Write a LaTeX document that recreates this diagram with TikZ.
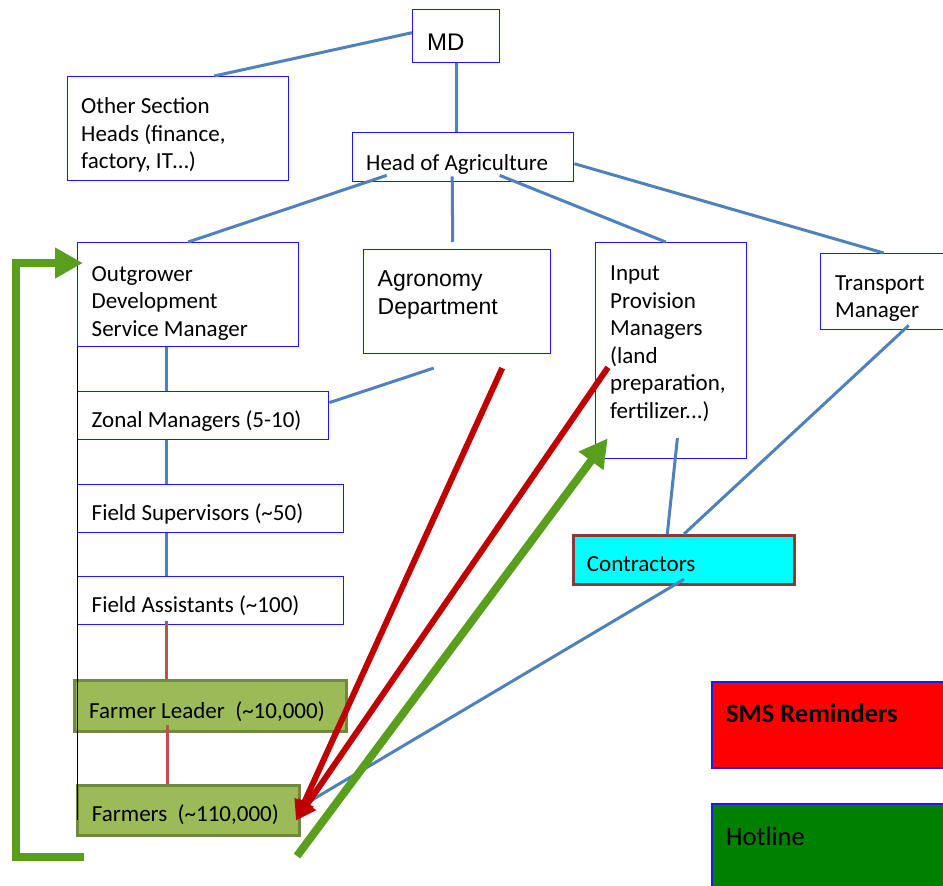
\documentclass[tikz,border=0pt]{standalone}
\usepackage{fontspec}
\setmainfont{Carlito}
\newfontfamily\arialfam{Liberation Sans}
\usepackage{tikz}
\usetikzlibrary{positioning,arrows.meta}
\definecolor{boxblue}{HTML}{1A1AF5}
\definecolor{linkblue}{HTML}{4F81BD}
\definecolor{leafred}{HTML}{C0504D}
\definecolor{smsred}{HTML}{C00000}
\definecolor{hotgreen}{HTML}{5A9E1E}
\definecolor{hotfill}{HTML}{008000}
\definecolor{farmfill}{HTML}{9BBB59}
\definecolor{farmedge}{HTML}{71893F}
\definecolor{confill}{HTML}{00FFFF}
\definecolor{conedge}{HTML}{8C3836}

\begin{document}
\begin{tikzpicture}[x=1pt,y=-1pt,
    box/.style={rectangle,draw=boxblue,line width=1.4pt,fill=white,inner sep=0pt,anchor=north west},
    farm/.style={box,draw=farmedge,fill=farmfill,line width=3pt},
    txt/.style={inner sep=0pt,anchor=base west,align=left,font=\fontsize{23pt}{27.6pt}\selectfont},
    linkline/.style={draw=linkblue,line width=3pt},
    leafline/.style={draw=leafred,line width=3pt},
    smsarrow/.style={draw=smsred,line width=6pt,-{Triangle[length=20pt,width=20pt]}},
    hotarrow/.style={draw=hotgreen,line width=8pt,line join=miter,-{Triangle[length=28pt,width=29pt]}}]
    \useasboundingbox (0,0) rectangle (943,886);

    % boxes
    \node[box,minimum width=87pt,minimum height=53pt] (md) at (412,9) {};
    \node[box,minimum width=221pt,minimum height=104pt] (osh) at (67,76) {};
    \node[box,minimum width=221pt,minimum height=49pt] (hoa) at (352,132) {};
    \node[box,minimum width=221pt,minimum height=104pt] (odsm) at (77,242) {};
    \node[box,minimum width=187pt,minimum height=104pt] (agr) at (363,249) {};
    \node[box,minimum width=151pt,minimum height=216pt] (ipm) at (595,242) {};
    \node[box,minimum width=140pt,minimum height=76pt] (tm) at (820,253) {};
    \node[box,minimum width=251pt,minimum height=48pt] (zm) [below right=43.3pt and 0pt of odsm.south west] {};
    \node[box,minimum width=266pt,minimum height=48pt] (fs) [below right=43.6pt and 0pt of zm.south west] {};
    \node[box,minimum width=266pt,minimum height=48pt] (fa) [below right=42.6pt and 0pt of fs.south west] {};
    \node[farm,minimum width=272pt,minimum height=51pt] (fl) at (73,679) {};
    \node[farm,minimum width=222pt,minimum height=50pt] (fm) at (76,784) {};
    \node[box,draw=conedge,fill=confill,line width=3pt,minimum width=221pt,minimum height=49pt] (con) at (572,534) {};
    \node[box,fill=red,line width=2pt,minimum width=240pt,minimum height=86pt] (sms) at (711,681) {};
    \node[box,fill=hotfill,line width=2pt,minimum width=240pt,minimum height=90pt] (hot) at (711,803) {};

    % texts (base anchor sits on the last line)
    \node[txt,font=\arialfam\fontsize{24pt}{28pt}\selectfont] (mdtx) at ([shift={(15pt,-41pt)}]md.north west) {MD};
    \node[txt] (oshtx) at ([shift={(14pt,-92.7pt)}]osh.north west) {Other Section\\Heads (finance,\\factory, IT…)};
    \node[txt] (hoatx) at ([shift={(14pt,-38.5pt)}]hoa.north west) {Head of Agriculture};
    \node[txt] (odsmtx) at ([shift={(14.5pt,-94.2pt)}]odsm.north west) {Outgrower\\Development\\Service Manager};
    \node[txt,font=\arialfam\fontsize{23pt}{28pt}\selectfont] (agrtx) at ([shift={(14.5pt,-65pt)}]agr.north west) {Agronomy\\Department};
    \node[txt] (ipmtx) at ([shift={(15pt,-176.5pt)}]ipm.north west) {Input\\Provision\\Managers\\(land\\preparation,\\fertilizer{.}{.}{.})};
    \node[txt] (tmtx) at ([shift={(15pt,-64.6pt)}]tm.north west) {Transport\\Manager};
    \node[txt] (zmtx) at ([shift={(14.5pt,-36.3pt)}]zm.north west) {Zonal Managers (5-10)};
    \node[txt] (fstx) at ([shift={(14.5pt,-36.5pt)}]fs.north west) {Field Supervisors (\textasciitilde50)};
    \node[txt] (fatx) at ([shift={(14.5pt,-36.5pt)}]fa.north west) {Field Assistants (\textasciitilde100)};
    \node[txt] (fltx) at ([shift={(16pt,-39pt)}]fl.north west) {Farmer Leader\ \ (\textasciitilde10,000)};
    \node[txt] (fmtx) at ([shift={(15.7pt,-37.7pt)}]fm.north west) {Farmers\ \ (\textasciitilde110,000)};
    \node[txt] (contx) at ([shift={(14.7pt,-37pt)}]con.north west) {Contractors};
    \node[txt,font=\bfseries\fontsize{26.5pt}{32pt}\selectfont] (smstx) at ([shift={(15pt,-41pt)}]sms.north west) {SMS Reminders};
    \node[txt,font=\fontsize{26.5pt}{32pt}\selectfont] (hottx) at ([shift={(15pt,-42pt)}]hot.north west) {Hotline};

    % reporting lines
    \draw[linkline] ([yshift=3.5pt]md.west) -- ([xshift=36pt]osh.north);
    \draw[linkline] (md.south) -- (md.south |- hoa.north);
    \draw[linkline] ([shift={(-76.5pt,7pt)}]hoa.south) -- (odsm.north);
    \draw[linkline] ([shift={(-11pt,6pt)}]hoa.south) -- ([shift={(-4.5pt,7pt)}]agr.north);
    \draw[linkline] ([shift={(36.5pt,7pt)}]hoa.south) -- ([xshift=-5.5pt]ipm.north);
    \draw[linkline] ([yshift=-6.5pt]hoa.east) -- ([xshift=-7pt]tm.north);
    \draw[linkline] ([xshift=-21.5pt]odsm.south) -- ([xshift=-21.5pt]odsm.south |- zm.north);
    \draw[linkline] ([shift={(-23.5pt,-13.7pt)}]agr.south) -- ([yshift=12.8pt]zm.east);
    \draw[linkline] ([xshift=-36.5pt]zm.south) -- ([xshift=-36.5pt]zm.south |- fs.north);
    \draw[linkline] ([xshift=-44pt]fs.south) -- ([xshift=-44pt]fs.south |- fa.north);
    \draw[linkline] ([shift={(6.2pt,21.3pt)}]ipm.south) -- ([xshift=-16.7pt]con.north);
    \draw[linkline] ([shift={(18pt,5pt)}]tm.south) -- (con.north);
    \draw[linkline] ([yshift=6.7pt]con.south) -- ([yshift=4pt]fm.east);
    \draw[leafline] ([shift={(-44pt,4pt)}]fa.south) -- ([xshift=-44pt]fa.south |- fl.north);
    \draw[leafline] ([shift={(-42.8pt,7.7pt)}]fl.south) -- ([xshift=-42.8pt]fl.south |- fm.north);
    \draw[line width=0.8pt] (odsm.south west) -- ([yshift=-9pt]odsm.south west |- fm.east);

    % sms reminders
    \coordinate (smstip) at ([shift={(-5pt,-10pt)}]fm.east);
    \draw[smsarrow] ([shift={(45pt,-13.7pt)}]agr.south) -- (smstip);
    \draw[smsarrow] ([shift={(13pt,-16.7pt)}]ipm.west) -- (smstip);

    % hotline
    \coordinate (loopend) at ([shift={(8pt,-20pt)}]fm.south west);
    \draw[hotarrow] ([shift={(-4pt,-19pt)}]fm.south east) -- ([shift={(12.7pt,21pt)}]ipm.south west);
    \draw[hotarrow] (loopend) -- ++(-68,0) |- ([shift={(6pt,-21pt)}]odsm.north west);
\end{tikzpicture}
\end{document}
